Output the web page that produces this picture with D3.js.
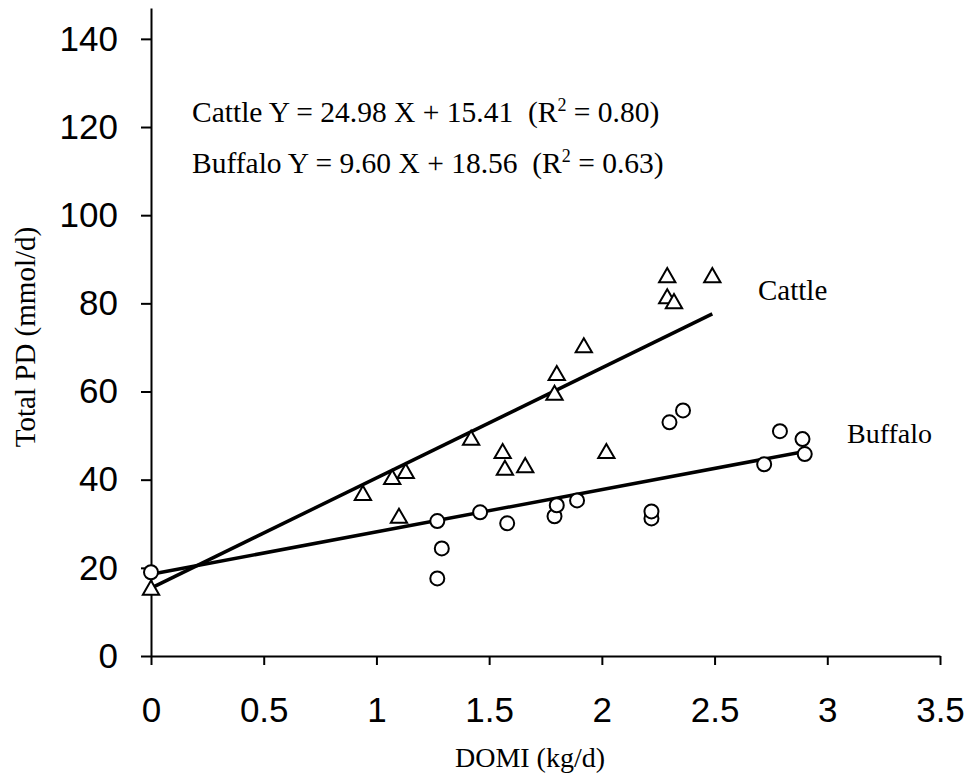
<!DOCTYPE html>
<html>
<head>
<meta charset="utf-8">
<script src="https://cdn.jsdelivr.net/npm/d3@7"></script>
<style>
    body { margin: 0; background: #fff; }
    .axis path, .axis line { stroke: #000; stroke-width: 2; }
    .axis text { font-family: "Liberation Sans", Arial, sans-serif; font-size: 35px; fill: #000; }
    .serif { font-family: "Liberation Serif", "Times New Roman", serif; font-size: 28px; fill: #000; }
    .linha { fill: none; stroke: #000; stroke-width: 3.5; }
    .marker { fill: #fff; stroke: #000; stroke-width: 2; }
</style>
</head>
<body>
<div class="div-plot"></div>
<script>
// DATA

var cattleX = [0, 0.94, 1.07, 1.13, 1.10, 1.42, 1.56, 1.57, 1.66, 1.79, 1.80, 1.92, 2.02, 2.29, 2.29, 2.32, 2.49];
var cattleY = [15.2, 36.7, 40.3, 41.7, 31.5, 49.2, 46.2, 42.4, 43.0, 59.4, 63.9, 70.2, 46.2, 86.1, 81.3, 80.2, 86.1];

var buffaloX = [0, 1.27, 1.29, 1.27, 1.46, 1.58, 1.79, 1.80, 1.89, 2.22, 2.22, 2.30, 2.36, 2.72, 2.79, 2.89, 2.90];
var buffaloY = [19.0, 17.6, 24.4, 30.6, 32.6, 30.1, 31.7, 34.2, 35.3, 31.2, 32.8, 53.0, 55.7, 43.5, 51.0, 49.2, 45.8];

// regression: slope, intercept, x range of the fitted line
var cattleFit = [24.98, 15.41, 0, 2.49];
var buffaloFit = [9.60, 18.56, 0, 2.90];

var xTicks = [0, 0.5, 1, 1.5, 2, 2.5, 3, 3.5];
var yTicks = [0, 20, 40, 60, 80, 100, 120, 140];

// VISUALIZATION

var width = 965;
var height = 783;

var svg = d3.select('.div-plot').append('svg')
    .attr('width', width)
    .attr('height', height);

var x_scale = d3.scaleLinear()
    .domain([0, 3.5])
    .range([151, 940]);

var y_scale = d3.scaleLinear()
    .domain([0, 147])
    .range([656, 8]);

var x_axis = d3.axisBottom(x_scale)
    .tickValues(xTicks)
    .tickSize(9)
    .tickSizeOuter(0)
    .tickPadding(32)
    .tickFormat(d3.format(""));

svg.append("g")
    .attr("class", "x axis")
    .attr("transform", "translate(0," + y_scale(0) + ")")
    .call(x_axis)
    .call(g => g.selectAll(".tick text").attr("dy", "0.71em"));

var y_axis = d3.axisLeft(y_scale)
    .tickValues(yTicks)
    .tickSize(10)
    .tickSizeOuter(0)
    .tickPadding(23);

svg.append("g")
    .attr("class", "y axis")
    .attr("transform", "translate(" + x_scale(0) + ",0)")
    .call(y_axis);

// regression lines
var line = d3.line()
    .x(d => x_scale(d[0]))
    .y(d => y_scale(d[1]));

[cattleFit, buffaloFit].forEach(f => {
    svg.append("path")
        .attr("class", "linha")
        .attr("d", line([[f[2], f[0] * f[2] + f[1]], [f[3], f[0] * f[3] + f[1]]]));
});

// markers
var buffaloData = buffaloX.map((x, i) => ({ x: x, y: buffaloY[i] }));
var cattleData = cattleX.map((x, i) => ({ x: x, y: cattleY[i] }));

svg.append("g").selectAll("circle")
    .data(buffaloData)
    .join("circle")
    .attr("class", "marker")
    .attr("cx", d => x_scale(d.x))
    .attr("cy", d => y_scale(d.y))
    .attr("r", 7);

var tri = d3.symbol().type(d3.symbolTriangle).size(115);
svg.append("g").selectAll("path")
    .data(cattleData)
    .join("path")
    .attr("class", "marker")
    .attr("d", tri)
    .attr("transform", d => "translate(" + x_scale(d.x) + "," + (y_scale(d.y) + 1) + ")");

// labels
svg.append("text").attr("class", "serif")
    .attr("x", 758).attr("y", 300).style("font-size", "29px").text("Cattle");
svg.append("text").attr("class", "serif")
    .attr("x", 847).attr("y", 443).text("Buffalo");

function equation(y, name, f, r2) {
    var t = svg.append("text").attr("class", "serif")
        .attr("x", 192).attr("y", y)
        .style("font-size", "29.5px")
        .attr("xml:space", "preserve");
    t.append("tspan").text(name + " Y = " + f[0].toFixed(2) + " X + " + f[1].toFixed(2) + "  (R");
    t.append("tspan").attr("dy", -11).style("font-size", "18px").text("2");
    t.append("tspan").attr("dy", 11).text(" = " + r2 + ")");
}
equation(122, "Cattle", cattleFit, "0.80");
equation(173, "Buffalo", buffaloFit, "0.63");

svg.append("text").attr("class", "serif")
    .attr("text-anchor", "middle")
    .attr("x", 530).attr("y", 767)
    .text("DOMI (kg/d)");

svg.append("text").attr("class", "serif")
    .attr("text-anchor", "middle")
    .style("font-size", "29px")
    .attr("transform", "translate(35,337) rotate(-90)")
    .text("Total PD (mmol/d)");
</script>
</body>
</html>
